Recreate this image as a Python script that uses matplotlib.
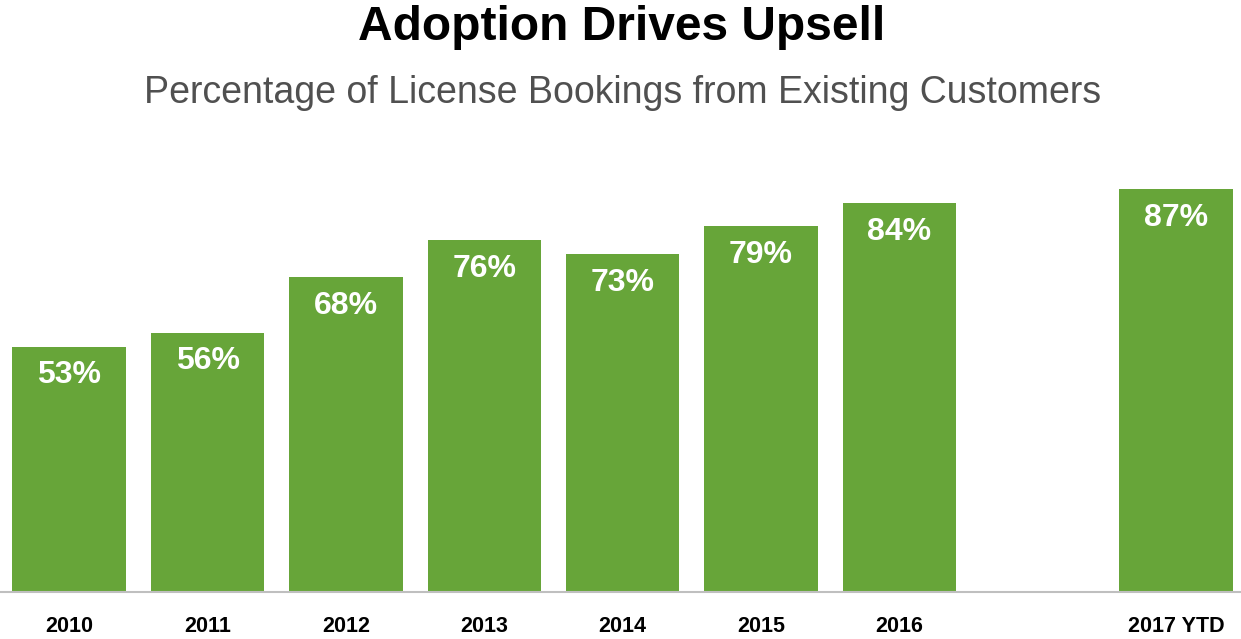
import matplotlib
matplotlib.use("Agg")
import matplotlib.pyplot as plt

# data
categories = ["2010", "2011", "2012", "2013", "2014", "2015", "2016", "2017 YTD"]
positions = [0, 1, 2, 3, 4, 5, 6, 8]
values = [53, 56, 68, 76, 73, 79, 84, 87]

bar_color = "#67a539"

plt.rcParams['font.family'] = ['Liberation Sans', 'DejaVu Sans']

fig = plt.figure(figsize=(12.41, 6.39), dpi=100)
ax = fig.add_axes([0.0, 1 - 592 / 639, 1.0, (592 - 129) / 639])

ax.bar(positions, values, width=0.82, color=bar_color, zorder=2)

# value labels inside the bars
for x, v in zip(positions, values):
    ax.text(x, v - 6.2, f"{v}%", ha="center", va="center", color="white",
            fontsize=23, fontweight="bold")

ax.set_xlim(-0.5, 8.47)
ax.set_ylim(0, 100)
ax.set_xticks(positions)
ax.set_xticklabels(categories, fontsize=15.5, fontweight="bold")
ax.tick_params(axis="x", length=0, pad=17)
ax.set_yticks([])

for s in ["top", "left", "right"]:
    ax.spines[s].set_visible(False)
ax.spines["bottom"].set_color("#bfbfbf")
ax.spines["bottom"].set_linewidth(1.5)

# titles
fig.text(0.501, 1 - 27 / 639, "Adoption Drives Upsell", ha="center", va="center",
         fontsize=34.5, fontweight="bold", color="black")
fig.text(0.502, 1 - 93 / 639, "Percentage of License Bookings from Existing Customers",
         ha="center", va="center", fontsize=27, color="#505050")

fig.savefig("out.png", dpi=100)
